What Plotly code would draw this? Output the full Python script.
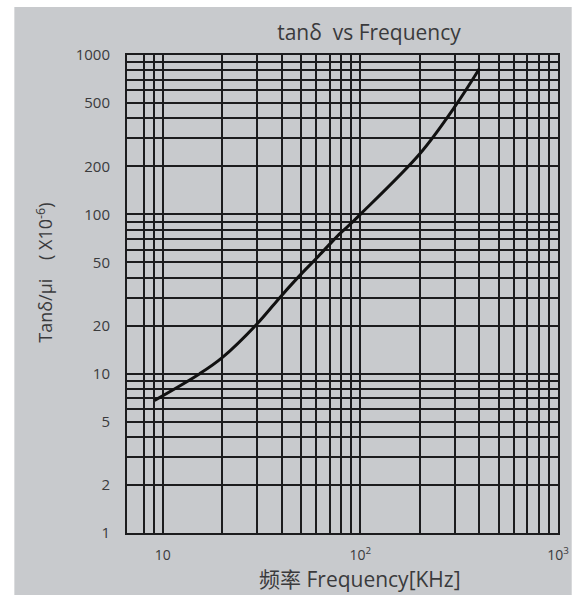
import numpy as np
import plotly.graph_objects as go

# curve
freq_khz = [9.1, 15.4, 20, 30, 40, 50, 60, 70, 80, 90, 100, 200, 300, 400]
tan_per_mu = [6.8, 10, 12.6, 20.5, 31, 42, 53, 65, 77, 88, 100, 240, 472, 820]

# grid lines / tick labels
x_grid = [8, 9, 10, 20, 30, 40, 50, 60, 70, 80, 90, 100,
          200, 300, 400, 500, 600, 700, 800, 900, 1000]
x_labels = {10: "10", 100: "10<sup>2</sup>", 1000: "10<sup>3</sup>"}
y_grid = [1, 2, 3, 4, 5, 6, 7, 8, 9, 10, 20, 30, 40, 50, 60, 70, 80, 90,
          100, 200, 300, 400, 500, 600, 700, 800, 900, 1000]
y_labels = {1: "1", 2: "2", 5: "5", 10: "10", 20: "20", 50: "50",
            100: "100", 200: "200", 500: "500", 1000: "1000"}

bg = "#c8cacd"
txt = "#3a3a3c"
gridc = "#1c1c1e"

fig = go.Figure(go.Scatter(
    x=freq_khz, y=tan_per_mu, mode="lines", line_shape="spline",
    line=dict(color="#111111", width=3, smoothing=1), hoverinfo="x+y"))

fig.update_layout(
    width=581, height=595,
    margin=dict(l=127, r=14, t=55, b=62),
    paper_bgcolor="white", plot_bgcolor=bg,
    showlegend=False,
    font=dict(family="Open Sans", color=txt, size=15),
    title=dict(text="tanδ  vs Frequency", x=369 / 581, xanchor="center",
               y=1 - 33 / 595, yanchor="middle",
               font=dict(size=21, color=txt, family="Open Sans")),
)

# photo paper, leaving the white edge at top and left
fig.add_shape(type="rect", xref="paper", yref="paper", layer="below",
              x0=(12 - 127) / 440, x1=(581 - 127) / 440,
              y0=(533 - 595) / 478, y1=(533 - 7) / 478,
              fillcolor=bg, line_width=0)

fig.update_xaxes(type="log", range=[np.log10(6.6), 3],
                 tickvals=x_grid, ticktext=[x_labels.get(v, "") for v in x_grid],
                 showgrid=True, gridcolor=gridc, gridwidth=1.5,
                 showline=True, mirror=True, linecolor=gridc, linewidth=2,
                 ticks="", ticklabelstandoff=8, zeroline=False,
                 tickfont=dict(size=14))
fig.update_yaxes(type="log", range=[0, 3],
                 tickvals=y_grid, ticktext=[y_labels.get(v, "") for v in y_grid],
                 showgrid=True, gridcolor=gridc, gridwidth=1.5,
                 showline=True, mirror=True, linecolor=gridc, linewidth=2,
                 ticks="", ticklabelstandoff=12, zeroline=False,
                 tickfont=dict(size=15))

fig.add_annotation(text="频率 Frequency[KHz]", xref="paper", yref="paper",
                   x=(365 - 127) / 440, y=(533 - 579) / 478,
                   showarrow=False, xanchor="center", yanchor="middle",
                   font=dict(size=21, color=txt,
                             family="Open Sans, Noto Sans CJK SC"))
fig.add_annotation(text="Tanδ/μi    ( X10<sup>-6</sup>)", xref="paper", yref="paper",
                   x=(43 - 127) / 440, y=(533 - 273) / 478, textangle=-90,
                   showarrow=False, xanchor="center", yanchor="middle",
                   font=dict(size=18, color=txt, family="Open Sans"))

fig.write_html("out.html", config={"displayModeBar": False},
               post_script="document.body.style.margin='0px';")
